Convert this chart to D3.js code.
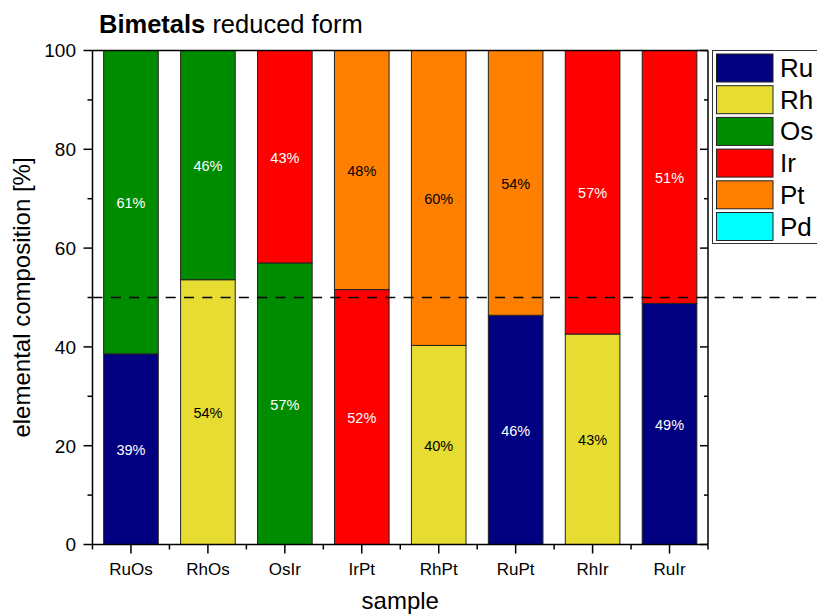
<!DOCTYPE html>
<html><head><meta charset="utf-8">
<script src="https://cdn.jsdelivr.net/npm/d3@7"></script>
<style>body{margin:0;background:#fff;} svg{display:block;font-family:"Liberation Sans",Arial,sans-serif;}</style>
</head><body>
<svg id="c" width="817" height="616"></svg>
<script>
const samples = ["RuOs","RhOs","OsIr","IrPt","RhPt","RuPt","RhIr","RuIr"];
const elements = ["Ru","Rh","Os","Ir","Pt","Pd"];
const Ru = [38.6, 0, 0, 0, 0, 46.4, 0, 48.8];
const Rh = [0, 53.6, 0, 0, 40.3, 0, 42.6, 0];
const Os = [61.4, 46.4, 57.0, 0, 0, 0, 0, 0];
const Ir = [0, 0, 43.0, 51.6, 0, 0, 57.4, 51.2];
const Pt = [0, 0, 0, 48.4, 59.7, 53.6, 0, 0];
const Pd = [0, 0, 0, 0, 0, 0, 0, 0];
const colors = ["#000080","#E6DC32","#008C00","#FF0000","#FF8000","#00FFFF"];
const labelColors = ["#fff","#000","#fff","#fff","#000","#000"];
const yTicks = [0,20,40,60,80,100];
const yMinor = [10,30,50,70,90];

const series = {Ru, Rh, Os, Ir, Pt, Pd};
const table = samples.map((s,i)=>{const o={sample:s}; elements.forEach(e=>o[e]=series[e][i]); return o;});
const stacked = d3.stack().keys(elements)(table);

const svg = d3.select("#c");
const L=92.5, R=708, T=50.5, B=544.5;
const x = d3.scaleBand().domain(samples).range([L,R]).paddingInner(0.29).paddingOuter(0.145);
const y = d3.scaleLinear().domain([0,100]).range([B,T]);
const step = x.step();

// bars
const g = svg.append("g");
stacked.forEach((layer,k)=>{
  g.selectAll(null).data(layer.filter(d=>d[1]-d[0]>0)).join("rect")
    .attr("x",d=>x(d.data.sample)).attr("width",x.bandwidth())
    .attr("y",d=>y(d[1])).attr("height",d=>y(d[0])-y(d[1]))
    .attr("fill",colors[k]).attr("stroke","#222").attr("stroke-width",1);
  g.selectAll(null).data(layer.filter(d=>d[1]-d[0]>0)).join("text")
    .attr("x",d=>x(d.data.sample)+x.bandwidth()/2)
    .attr("y",d=>(y(d[0])+y(d[1]))/2+6)
    .attr("text-anchor","middle").attr("font-size",14.5).attr("fill",labelColors[k])
    .text(d=>Math.round(d[1]-d[0])+"%");
});

// dashed 50% line
svg.append("line").attr("x1",L).attr("x2",817).attr("y1",y(50)).attr("y2",y(50))
  .attr("stroke","#000").attr("stroke-width",1.5).attr("stroke-dasharray","10,8.3");

// frame
const ax = svg.append("g").attr("stroke","#000").attr("stroke-width",1.5);
ax.append("line").attr("x1",L).attr("x2",L).attr("y1",T).attr("y2",B);
ax.append("line").attr("x1",R).attr("x2",R).attr("y1",T).attr("y2",B);
ax.append("line").attr("x1",L).attr("x2",R).attr("y1",T).attr("y2",T);
ax.append("line").attr("x1",L).attr("x2",R).attr("y1",B).attr("y2",B);

// y axis ticks
yTicks.forEach(v=>{
  ax.append("line").attr("x1",L-9).attr("x2",L).attr("y1",y(v)).attr("y2",y(v));
  ax.append("line").attr("x1",R-8).attr("x2",R).attr("y1",y(v)).attr("y2",y(v));
});
yMinor.forEach(v=>{
  ax.append("line").attr("x1",L-5).attr("x2",L).attr("y1",y(v)).attr("y2",y(v));
  ax.append("line").attr("x1",R-4).attr("x2",R).attr("y1",y(v)).attr("y2",y(v));
});
svg.append("g").selectAll("text").data(yTicks).join("text")
  .attr("x",76).attr("y",v=>y(v)+6.8).attr("text-anchor","end").attr("font-size",19).text(v=>v);

// x axis
samples.forEach(s=>{
  const c = x(s)+x.bandwidth()/2;
  ax.append("line").attr("x1",c).attr("x2",c).attr("y1",B).attr("y2",B+9);
});
d3.range(samples.length+1).forEach(i=>{
  const xx = L + i*step;
  ax.append("line").attr("x1",xx).attr("x2",xx).attr("y1",B).attr("y2",B+5);
});
svg.append("g").selectAll("text").data(samples).join("text")
  .attr("x",s=>x(s)+x.bandwidth()/2).attr("y",575).attr("text-anchor","middle").attr("font-size",17).text(s=>s);

// axis titles
svg.append("text").attr("x",(L+R)/2).attr("y",609).attr("text-anchor","middle").attr("font-size",24).text("sample");
svg.append("text").attr("transform","translate(30,"+y(50)+") rotate(-90)").attr("text-anchor","middle").attr("font-size",24).text("elemental composition [%]");

// title
const t = svg.append("text").attr("x",99).attr("y",33).attr("font-size",25.5);
t.append("tspan").attr("font-weight","bold").text("Bimetals");
t.append("tspan").text(" reduced form");

// legend
const lg = svg.append("g");
lg.append("rect").attr("x",712.5).attr("y",50.5).attr("width",120).attr("height",193).attr("fill","#fff").attr("stroke","#333").attr("stroke-width",1);
elements.forEach((e,i)=>{
  const yy = 54 + i*31.7;
  lg.append("rect").attr("x",716.5).attr("y",yy).attr("width",56.5).attr("height",28).attr("fill",colors[i]).attr("stroke","#222").attr("stroke-width",1);
  lg.append("text").attr("x",780).attr("y",yy+23).attr("font-size",26).text(e);
});
</script>
</body></html>
